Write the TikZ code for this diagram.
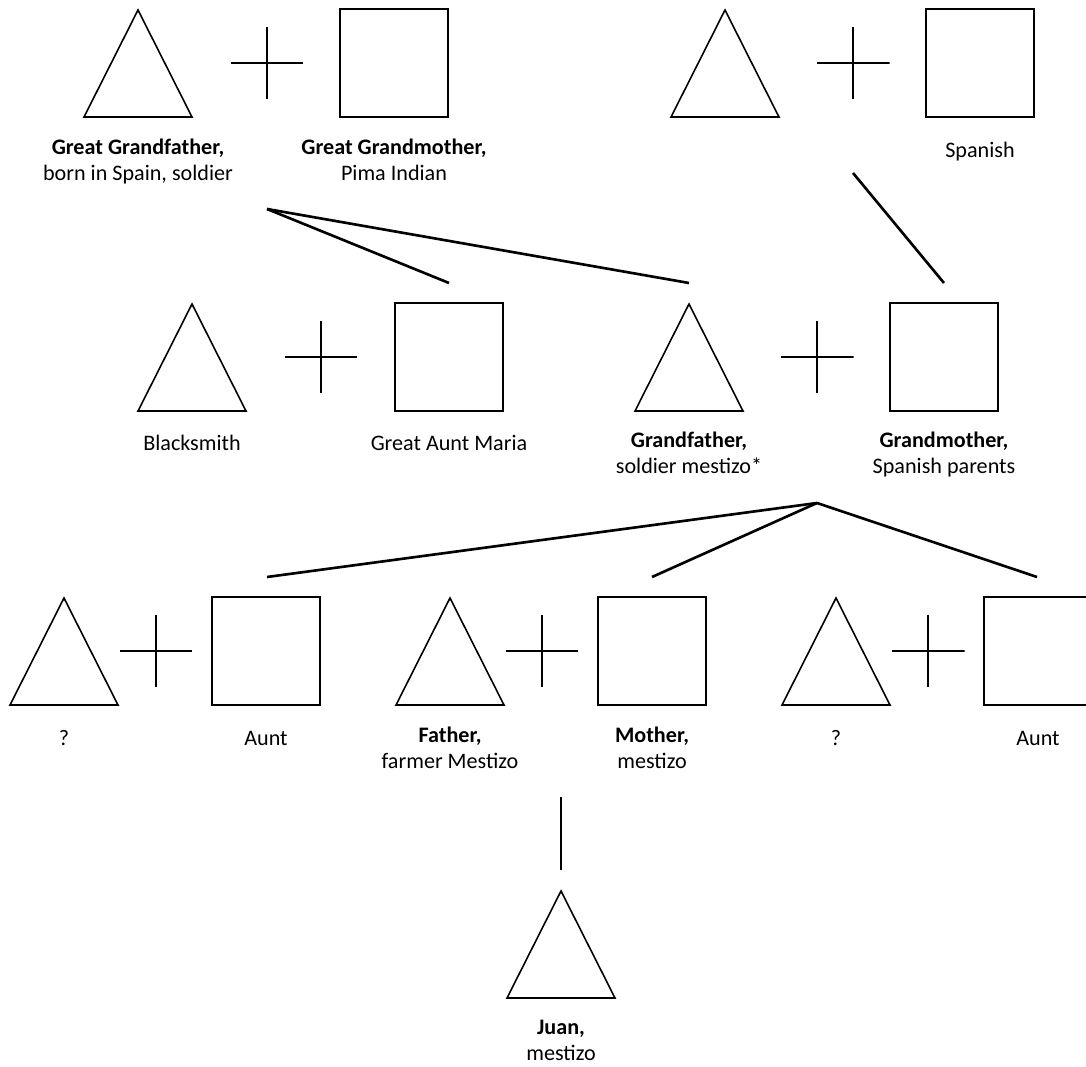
\documentclass[tikz,border=0pt]{standalone}
\usepackage{fontspec}
\setmainfont{Carlito}
\usetikzlibrary{shapes.geometric}

\begin{document}
\begin{tikzpicture}[x=0.02cm, y=-0.02cm, line width=0.9pt, nodes = {align = center, inner sep=0pt, outer sep=0pt}]

  \tikzstyle{male}=[draw, isosceles triangle, isosceles triangle stretches, shape border rotate=90, minimum width=2.16cm, minimum height=2.14cm, anchor=south]
  \tikzstyle{female}=[draw, rectangle, minimum width=2.16cm, minimum height=2.16cm]
  \tikzstyle{union}=[minimum size=1.46cm, path picture={\draw (path picture bounding box.west) -- (path picture bounding box.east) (path picture bounding box.north) -- (path picture bounding box.south);}]
  \tikzstyle{info}=[anchor=north, font=\fontsize{12.6}{14.9}\selectfont, execute at begin node=\strut]
  \tikzstyle{link}=[line width=1.5pt]

  \useasboundingbox (0,0) rectangle (1086,1067);
  \clip (0,0) rectangle (1086,1067);

  % Great grandparents
  \node[male] (ggf) at (138,117) {};
  \node[union] (u1) at (267,63) {};
  \node[female] (ggm) at (394,63) {};
  \node[male] (sgf) at (725,117) {};
  \node[union] (u2) at (853,63) {};
  \node[female] (sgm) at (980,63) {};

  \node[info] (ggf-t) at (138,139) {\textbf{Great Grandfather,}\\born in Spain, soldier};
  \node[info] (ggm-t) at (394,139) {\textbf{Great Grandmother,}\\Pima Indian};
  \node[info] (sgm-t) at (980,139) {Spanish};

  % Grandparents
  \node[male] (smith) at (192,411) {};
  \node[union] (u3) at (321,357) {};
  \node[female] (maria) at (449,357) {};
  \node[male] (gf) at (689,411) {};
  \node[union] (u4) at (817,357) {};
  \node[female] (gm) at (944,357) {};

  \node[info] (smith-t) at (192,432) {Blacksmith};
  \node[info] (maria-t) at (449,432) {Great Aunt Maria};
  \node[info] (gf-t) at (689,432) {\textbf{Grandfather,}\\soldier mestizo*};
  \node[info] (gm-t) at (944,432) {\textbf{Grandmother,}\\Spanish parents};

  % Parents
  \node[male] (uk1) at (64,705) {};
  \node[union] (u5) at (156,651) {};
  \node[female] (aunt1) at (266,651) {};
  \node[male] (father) at (450,705) {};
  \node[union] (u6) at (542,651) {};
  \node[female] (mother) at (652,651) {};
  \node[male] (uk2) at (836,705) {};
  \node[union] (u7) at (928,651) {};
  \node[female] (aunt2) at (1038,651) {};

  \node[info] (uk1-t) at (64,727) {?};
  \node[info] (aunt1-t) at (266,727) {Aunt};
  \node[info] (father-t) at (450,727) {\textbf{Father,}\\farmer Mestizo};
  \node[info] (mother-t) at (652,727) {\textbf{Mother,}\\mestizo};
  \node[info] (uk2-t) at (836,727) {?};
  \node[info] (aunt2-t) at (1038,727) {Aunt};

  % Juan
  \node[male] (juan) at (561,998) {};
  \node[info] (juan-t) at (561,1020) {\textbf{Juan,}\\mestizo};

  % Descent lines
  \coordinate (gg-kids) at (267,209);
  \coordinate (maria-up) at (449,283);
  \coordinate (gf-up) at (689,283);
  \coordinate (sp-kids) at (853,173);
  \coordinate (gm-up) at (944,283);
  \coordinate (g-kids) at (817,503);
  \coordinate (aunt1-up) at (267,577);
  \coordinate (mother-up) at (652,577);
  \coordinate (aunt2-up) at (1037,577);
  \coordinate (p-kids) at (561,797);
  \coordinate (juan-up) at (561,870);

  \draw[link] (gg-kids) -- (maria-up);
  \draw[link] (gg-kids) -- (gf-up);
  \draw[link] (sp-kids) -- (gm-up);
  \draw[link] (g-kids) -- (aunt1-up);
  \draw[link] (g-kids) -- (mother-up);
  \draw[link] (g-kids) -- (aunt2-up);
  \draw[link] (p-kids) -- (juan-up);

\end{tikzpicture}
\end{document}
